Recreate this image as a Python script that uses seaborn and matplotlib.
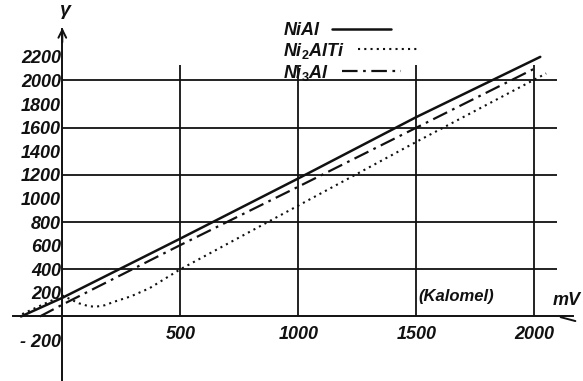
import matplotlib
matplotlib.use("Agg")
import matplotlib.pyplot as plt
import numpy as np
import pandas as pd
import seaborn as sns

# Potential (mV vs. calomel) and response values for each alloy
nial_mv = [-175, 0, 500, 1000, 1500, 2025]
nial_val = [0, 158, 660, 1170, 1690, 2200]

ni2alti_mv = [-170, -100, -40, 0, 30, 70, 110, 140, 180, 220, 290, 370, 500, 1000, 1500, 2050]
ni2alti_val = [20, 85, 140, 178, 150, 112, 88, 82, 95, 125, 170, 240, 400, 940, 1480, 2060]

ni3al_mv = [-95, 0, 500, 1000, 1500, 2000]
ni3al_val = [0, 100, 605, 1100, 1600, 2100]

alloys = ["NiAl", "Ni2AlTi", "Ni3Al"]
alloy_labels = ["NiAl", r"Ni$_2$AlTi", r"Ni$_3$Al"]

y_ticks = [-200, 200, 400, 600, 800, 1000, 1200, 1400, 1600, 1800, 2000, 2200]
y_ticklabels = ["- 200", "200", "400", "600", "800", "1000", "1200", "1400",
                "1600", "1800", "2000", "2200"]
x_ticks = [500, 1000, 1500, 2000]
h_grid = [400, 800, 1200, 1600, 2000]
v_grid = [500, 1000, 1500, 2000]

df = pd.concat([
    pd.DataFrame({"mV": nial_mv, "val": nial_val, "alloy": "NiAl"}),
    pd.DataFrame({"mV": ni2alti_mv, "val": ni2alti_val, "alloy": "Ni2AlTi"}),
    pd.DataFrame({"mV": ni3al_mv, "val": ni3al_val, "alloy": "Ni3Al"}),
], ignore_index=True)

sns.set_style("white")
plt.rcParams["mathtext.fontset"] = "custom"
plt.rcParams["mathtext.it"] = "Liberation Sans:italic:bold"
plt.rcParams["mathtext.rm"] = "Liberation Sans:bold"
plt.rcParams["mathtext.default"] = "it"
plt.rcParams["font.family"] = ["Liberation Sans", "DejaVu Sans"]

fig = plt.figure(figsize=(5.83, 3.81), dpi=100)
ax = fig.add_axes([0, 0, 1, 1])
ax.set_xlim(-264, 2206)
ax.set_ylim(-547, 2682)

ink = "#111111"
txt = dict(fontstyle="italic", fontweight="bold", color=ink)
fs = 13

# grid
ax.hlines(h_grid, 0, 2095, color=ink, lw=1.3, zorder=1)
ax.vlines(v_grid, 0, 2130, color=ink, lw=1.3, zorder=1)

sns.lineplot(data=df, x="mV", y="val", hue="alloy", style="alloy",
             palette={a: ink for a in alloys},
             dashes={"NiAl": "", "Ni2AlTi": (1, 2.0), "Ni3Al": (7, 2.5, 1.2, 2.5)},
             sort=False, estimator=None, ax=ax, legend=False, zorder=3)
for line, lw in zip(ax.get_lines(), [1.8, 1.5, 1.6]):
    line.set_linewidth(lw)

# axes through the origin
for s in ["top", "right"]:
    ax.spines[s].set_visible(False)
ax.spines["left"].set_position(("data", 0))
ax.spines["bottom"].set_position(("data", 0))
ax.spines["left"].set_bounds(-547, 2440)
ax.spines["bottom"].set_bounds(-210, 2165)
for s in ["left", "bottom"]:
    ax.spines[s].set_color(ink)
    ax.spines[s].set_linewidth(1.4)

ax.set_yticks(y_ticks)
ax.set_yticklabels(y_ticklabels, fontsize=fs, **txt)
ax.tick_params(axis="y", direction="in", length=5, width=1.3, color=ink, pad=1)
ax.set_xticks(x_ticks)
ax.set_xticklabels([str(t) for t in x_ticks], fontsize=fs, **txt)
ax.tick_params(axis="x", length=0, pad=7)
ax.set_xlabel("")
ax.set_ylabel("")

# arrow heads
ax.annotate("", xy=(0, 2470), xytext=(0, 2300),
            arrowprops=dict(arrowstyle="->", color=ink, lw=1.4, mutation_scale=14))
ax.annotate("", xy=(2185, -45), xytext=(2100, 0),
            arrowprops=dict(arrowstyle="-", color=ink, lw=1.4))

ax.text(15, 2590, "γ", ha="center", va="center", fontsize=14, **txt)
ax.text(2135, 135, "mV", ha="center", va="center", fontsize=fs, **txt)
ax.text(1670, 165, "(Kalomel)", ha="center", va="center", fontsize=12, **txt)

# legend with labels to the left of the line samples
leg = ax.legend(ax.get_lines(), alloy_labels, loc="upper left",
                bbox_to_anchor=(0.458, 0.985), frameon=False, markerfirst=False,
                handlelength=3.3, handletextpad=0.7, labelspacing=0.1,
                prop=dict(size=fs, style="italic", weight="bold"))
for t in leg.get_texts():
    t.set_color(ink)
for col in leg._legend_box.get_children()[1].get_children():
    col.align = "left"

fig.savefig("out.png", dpi=100)
